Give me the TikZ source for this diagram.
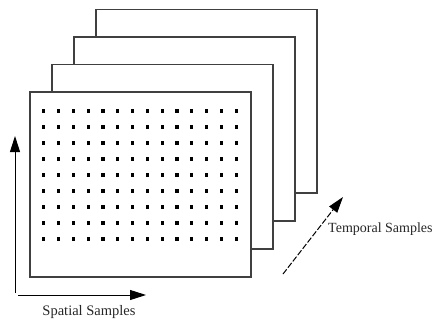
\documentclass[tikz,border=0pt]{standalone}
\usepackage{fontspec}
\setmainfont{Liberation Serif}
\usetikzlibrary{arrows.meta}
\begin{document}
\begin{tikzpicture}[x=1pt,y=-1pt,
  frame/.style={draw=black!75,line width=1.1pt,fill=white},
  sample/.style={fill=black},
  axis/.style={line width=1pt,-{Triangle[length=16pt,width=10pt]}},
  taxis/.style={line width=1pt,dash pattern=on 6pt off 2pt,-{Triangle[length=16pt,width=10pt]}},
  lbl/.style={font=\fontsize{14.5}{17}\selectfont,text=black!85}]
  \useasboundingbox (0,0) rectangle (437,322);
  % stacked frames, back to front
  \foreach \i in {3,2,1,0}{
    \draw[frame] (30+22*\i,92-27.5*\i) rectangle (251+22*\i,277-28*\i);
  }
  % spatial sample grid on the front frame
  \foreach \c in {0,...,13}{
    \foreach \r in {0,...,8}{
      \fill[sample] (42.1+14.8*\c,109.2+16*\r) rectangle ++(3.2,3.6);
    }
  }
  % axes
  \coordinate (v0) at (15,293);
  \coordinate (v1) at (15,136);
  \coordinate (h0) at (18,295);
  \coordinate (h1) at (146,295);
  \coordinate (t0) at (283,274);
  \coordinate (t1) at (343,197);
  \draw[axis] (v0) -- (v1);
  \draw[axis] (h0) -- (h1);
  \draw[taxis] (t0) -- (t1);
  \node[lbl] (spatial) at (89,312) {Spatial Samples};
  \node[lbl,font=\fontsize{14}{17}\selectfont,anchor=west,inner sep=0pt] (temporal) at (328,229) {Temporal Samples};
\end{tikzpicture}
\end{document}
